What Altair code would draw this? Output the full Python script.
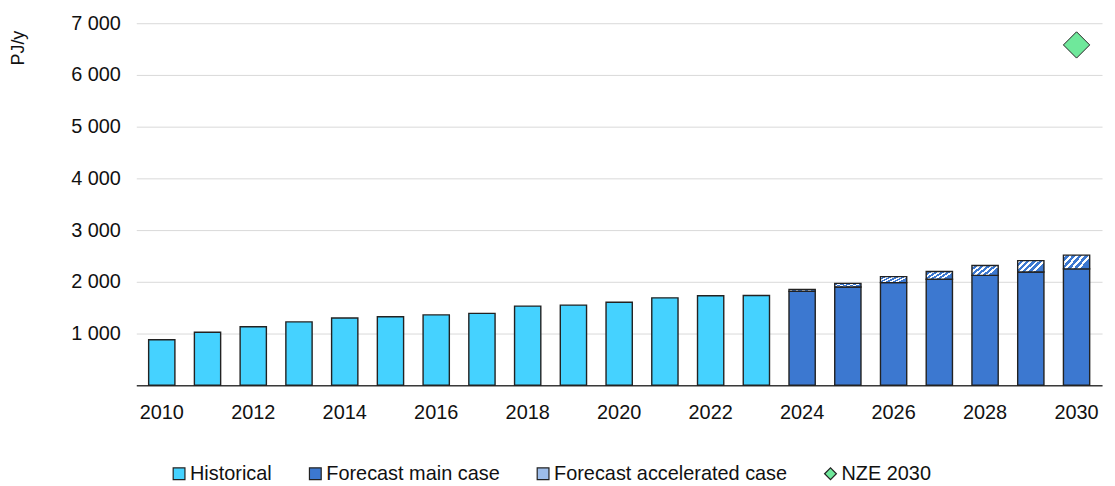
import altair as alt
import pandas as pd

# ---- data ----
hist_years = list(range(2010, 2024))
hist_values = [880, 1025, 1130, 1225, 1300, 1325, 1360, 1390, 1530, 1550, 1605, 1690, 1730, 1735]

fc_years = list(range(2024, 2031))
fc_main = [1815, 1900, 1985, 2050, 2125, 2190, 2250]
fc_accel_total = [1850, 1970, 2100, 2200, 2315, 2410, 2515]

nze_year = [2030]
nze_value = [6580]

series_names = ["Historical", "Forecast main case", "Forecast accelerated case", "NZE 2030"]
series_colors = ["#45D2FF", "#3C78D0", "#9DBDEA", "#6FE89B"]
series_shapes = ["square", "square", "square", "diamond"]

# ---- tables ----
bars = pd.DataFrame(
    {"year": hist_years + fc_years,
     "value": hist_values + fc_main,
     "series": ["Historical"] * len(hist_years) + ["Forecast main case"] * len(fc_years)}
)
accel = pd.DataFrame({"year": fc_years, "main": fc_main, "total": fc_accel_total})
nze = pd.DataFrame({"year": nze_year, "value": nze_value, "series": ["NZE 2030"]})

FONT = "Liberation Sans"
TXT = "#111111"
EDGE = "#222222"
all_years = list(range(2010, 2031))

x_enc = alt.X("year:O", scale=alt.Scale(domain=all_years, paddingInner=0.426, paddingOuter=0.27),
              axis=alt.Axis(title=None, labelAngle=0, ticks=False, grid=False,
                            labelExpr="datum.value % 2 == 0 ? datum.label : ''",
                            labelFontSize=20, labelFont=FONT, labelColor=TXT,
                            labelPadding=17, domainColor="#3a3a3a", domainWidth=1.5))

y_scale = alt.Scale(domain=[0, 7000], nice=False)
y_axis = alt.Axis(title="PJ/y", values=list(range(0, 7001, 1000)),
                  labelExpr="datum.value == 0 ? '' : replace(format(datum.value, ','), ',', ' ')",
                  labelFontSize=20, labelFont=FONT, labelColor=TXT, labelPadding=16,
                  ticks=False, domain=False, grid=True, gridColor="#d9d9d9", gridWidth=1,
                  titleFont=FONT, titleFontSize=18, titleFontWeight="normal", titleColor=TXT,
                  titleAngle=-90, titleAlign="right", titleBaseline="middle",
                  titleX=-118, titleY=7)

color_scale = alt.Scale(domain=series_names, range=series_colors)
shape_scale = alt.Scale(domain=series_names, range=series_shapes)
stroke_scale = alt.Scale(domain=series_names, range=[EDGE] * len(series_names))
legend = alt.Legend(title=None, orient="none", direction="horizontal", legendX=33, legendY=443,
                    labelFont=FONT, labelFontSize=20, labelColor=TXT, labelLimit=0,
                    symbolSize=140, symbolStrokeColor=EDGE, symbolStrokeWidth=1.2,
                    symbolOpacity=1, labelOffset=1, columnPadding=33)

main_bars = alt.Chart(bars).mark_bar(strokeWidth=1.4).encode(
    x=x_enc,
    y=alt.Y("value:Q", scale=y_scale, axis=y_axis),
    color=alt.Color("series:N", scale=color_scale, legend=legend),
    stroke=alt.Stroke("series:N", scale=stroke_scale, legend=legend),
)

# hatch imitation with hard-stop gradient
stripe_blue = "#3C78D0"
stops = []
n = 5
for k in range(n):
    a = k / n
    b = (k + 0.45) / n
    c = (k + 1) / n
    stops += [alt.GradientStop(color="white", offset=a), alt.GradientStop(color="white", offset=b),
              alt.GradientStop(color=stripe_blue, offset=b), alt.GradientStop(color=stripe_blue, offset=c)]
hatch = alt.LinearGradient(gradient="linear", stops=stops, x1=0, y1=0, x2=1, y2=0.45)

accel_bars = alt.Chart(accel).mark_bar(fill=hatch, stroke=EDGE, strokeWidth=1.4).encode(
    x=alt.X("year:O"),
    y=alt.Y("main:Q"),
    y2="total:Q",
)

nze_pt = alt.Chart(nze).mark_point(filled=True, strokeWidth=1, size=700, opacity=1).encode(
    x=alt.X("year:O"),
    y=alt.Y("value:Q"),
    color=alt.Color("series:N", scale=color_scale, legend=legend),
    shape=alt.Shape("series:N", scale=shape_scale, legend=legend),
    stroke=alt.Stroke("series:N", scale=stroke_scale, legend=legend),
)

chart = alt.layer(main_bars, accel_bars, nze_pt).properties(
    width=971, height=364,
    padding={"left": 2, "top": 4, "right": 5, "bottom": 0},
).configure(font=FONT).configure_view(strokeWidth=0)

chart.save("out.html", embed_options={"renderer": "svg", "actions": False})
